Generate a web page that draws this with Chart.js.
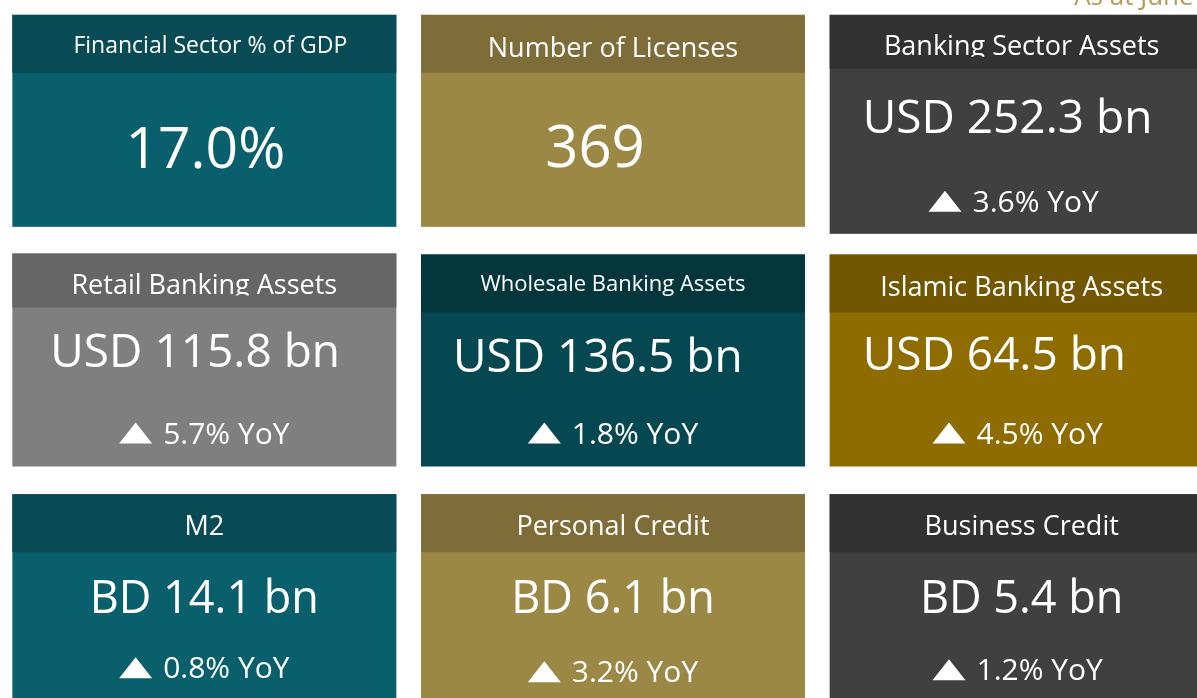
<!DOCTYPE html>
<html>
<head>
<meta charset="utf-8">
<script src="https://cdn.jsdelivr.net/npm/chart.js@4.4.1/dist/chart.umd.min.js"></script>
<style>
  html, body { margin: 0; padding: 0; background: #ffffff; overflow: hidden; }
  #wrap { position: absolute; left: 0; top: 0; width: 1226px; height: 720px; }
</style>
</head>
<body>
<div id="wrap"><canvas id="kpi" width="1226" height="720"></canvas></div>
<script>
// ---------------------------------------------------------------------------
// Data
// ---------------------------------------------------------------------------
const asAtLabel = 'As at June';
const columns = ['c1', 'c2', 'c3'];
const rows = ['r1', 'r2', 'r3'];

const titles = [
  'Financial Sector % of GDP', 'Number of Licenses', 'Banking Sector Assets',
  'Retail Banking Assets', 'Wholesale Banking Assets', 'Islamic Banking Assets',
  'M2', 'Personal Credit', 'Business Credit',
];
const prefixes = ['', '', 'USD', 'USD', 'USD', 'USD', 'BD', 'BD', 'BD'];
const values   = [17.0, 369, 252.3, 115.8, 136.5, 64.5, 14.1, 6.1, 5.4];
const decimals = [1, 0, 1, 1, 1, 1, 1, 1, 1];
const suffixes = ['%', '', ' bn', ' bn', ' bn', ' bn', ' bn', ' bn', ' bn'];
const yoyGrowth = [null, null, 3.6, 5.7, 1.8, 4.5, 0.8, 3.2, 1.2];

// ---------------------------------------------------------------------------
// Styles
// ---------------------------------------------------------------------------
const FONT = "'Open Sans', 'Noto Sans', sans-serif";
const TEAL = ['#095f6c', '#084b55'];
const OLIVE = ['#9c8845', '#7e6d38'];
const CHARCOAL = ['#404040', '#323232'];
const bodyHead = [
  TEAL, OLIVE, CHARCOAL,
  ['#7f7f7f', '#666666'], ['#064852', '#04363e'], ['#8e6c00', '#735700'],
  TEAL, OLIVE, CHARCOAL,
];
const tileW = 384;
const tileH  = [212, 212, 219, 213, 212, 212, 212, 212, 212];
const tileDy = [0, 0, 0, -1, 0, 0, 0, 0, 0];
const headH  = [58, 58, 54, 54, 58, 58, 58, 58, 58];
const titleSize = [23, 27, 27, 27, 22, 27, 27, 27, 27];
const titleY    = [38, 42, 40, 40, 36, 41, 41, 41, 41];
const titleDx   = [6, 0, 0, 0, 0, 0, 0, 0, 0];
const titleClip = [false, false, true, true, false, false, false, false, false];
const valueSize = [57, 58, 46, 46, 46, 46, 45, 45, 45];
const valueY    = [153, 152, 118, 113, 117, 115, 119, 119, 119];
const valueLeft = [null, null, 33, 38, 32, 33, null, null, null];
const valueDx   = [1, -18, 0, 0, 0, 0, 0, 0, 0];
const yoySize = 30;
const yoyY  = [0, 0, 197, 190, 189, 189, 184, 188, 186];
const yoyDx = [0, 0, -8, 0, 0, -4, 0, 0, -4];

function valueText(i) {
  const p = prefixes[i] ? prefixes[i] + ' ' : '';
  return p + values[i].toFixed(decimals[i]) + suffixes[i];
}

const tilePlugin = {
  id: 'kpiTiles',
  afterDraw(chart) {
    const ctx = chart.ctx;
    const xs = chart.scales.x;
    const ys = chart.scales.y;
    ctx.save();
    titles.forEach((title, i) => {
      const cx = xs.getPixelForValue(i % 3);
      const cy = ys.getPixelForValue(Math.floor(i / 3));
      const left = cx - tileW / 2;
      const top = cy - 106 + tileDy[i];

      ctx.fillStyle = bodyHead[i][0];
      ctx.fillRect(left, top, tileW, tileH[i]);
      ctx.fillStyle = bodyHead[i][1];
      ctx.fillRect(left, top, tileW, headH[i]);

      ctx.fillStyle = '#ffffff';
      ctx.textAlign = 'center';
      ctx.textBaseline = 'alphabetic';

      // title
      ctx.save();
      if (titleClip[i]) {
        ctx.beginPath();
        ctx.rect(left, top, tileW, titleY[i] + 2);
        ctx.clip();
      }
      ctx.font = `${titleSize[i]}px ${FONT}`;
      ctx.fillText(title, cx + titleDx[i], top + titleY[i]);
      ctx.restore();

      // value
      ctx.font = `${valueSize[i]}px ${FONT}`;
      if (valueLeft[i] != null) {
        ctx.textAlign = 'left';
        ctx.fillText(valueText(i), left + valueLeft[i], top + valueY[i]);
      } else {
        ctx.textAlign = 'center';
        ctx.fillText(valueText(i), cx + valueDx[i], top + valueY[i]);
      }

      // year-on-year change
      if (yoyGrowth[i] != null) {
        const txt = yoyGrowth[i].toFixed(1) + '% YoY';
        ctx.font = `${yoySize}px ${FONT}`;
        const tw = ctx.measureText(txt).width;
        const triW = 33, triH = 21, gap = 11;
        const x0 = cx + yoyDx[i] - (triW + gap + tw) / 2;
        const base = top + yoyY[i];
        ctx.beginPath();
        ctx.moveTo(x0, base);
        ctx.lineTo(x0 + triW, base);
        ctx.lineTo(x0 + triW / 2, base - triH);
        ctx.closePath();
        ctx.fill();
        ctx.textAlign = 'left';
        ctx.fillText(txt, x0 + triW + gap, base);
      }
    });

    // "As at" note, mostly above the visible area
    const lastLeft = xs.getPixelForValue(2) - tileW / 2;
    ctx.font = `26px ${FONT}`;
    ctx.fillStyle = '#b49a52';
    ctx.textAlign = 'right';
    ctx.textBaseline = 'alphabetic';
    ctx.fillText(asAtLabel, lastLeft + 364, 5);
    ctx.restore();
  },
};

new Chart(document.getElementById('kpi'), {
  type: 'bar',
  data: { labels: columns, datasets: [] },
  options: {
    responsive: false,
    animation: false,
    layout: { padding: { top: 1, left: 0, right: 0, bottom: 0 } },
    plugins: { legend: { display: false }, tooltip: { enabled: false } },
    scales: {
      x: { type: 'category', labels: columns, offset: true, display: false },
      y: { type: 'category', labels: rows, offset: true, display: false },
    },
  },
  plugins: [tilePlugin],
});
</script>
</body>
</html>
